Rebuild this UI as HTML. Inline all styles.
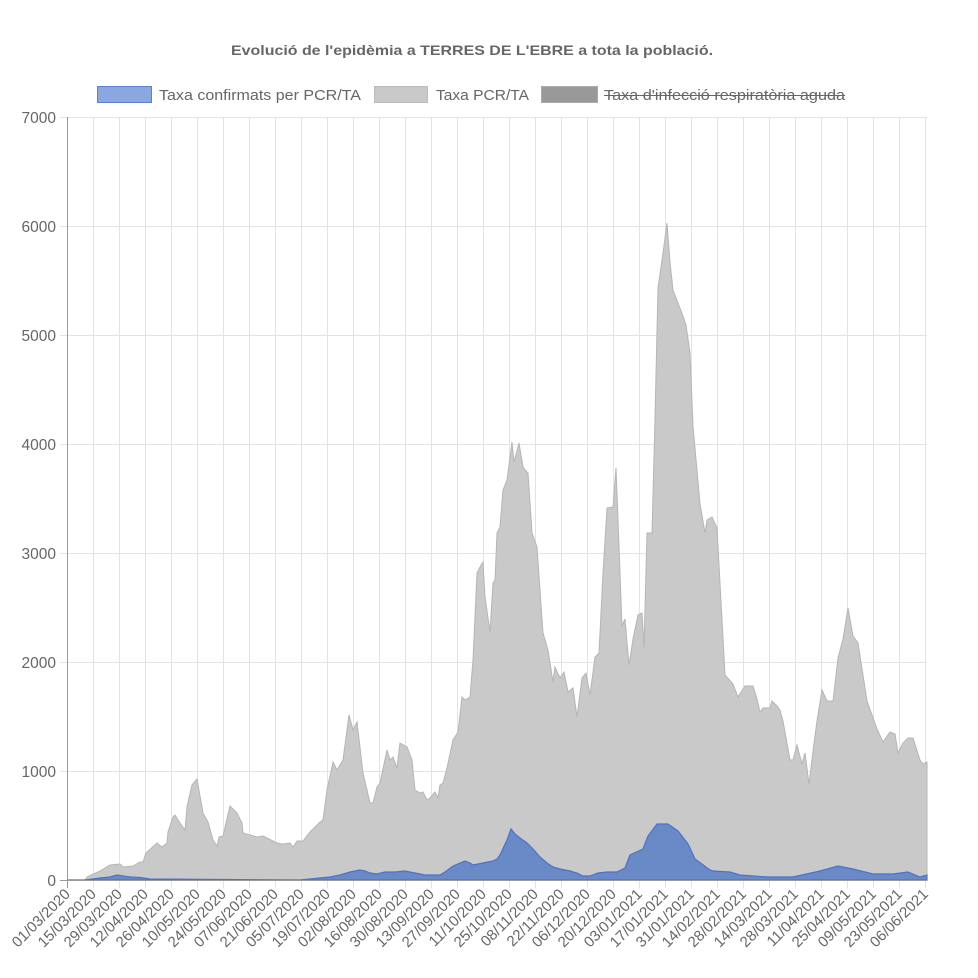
<!DOCTYPE html>
<html><head><meta charset="utf-8"><style>
html,body{margin:0;padding:0;background:#fff}
svg{display:block;font-family:"Liberation Sans",Arial,sans-serif}
</style></head><body>
<svg width="978" height="978" viewBox="0 0 978 978" xmlns="http://www.w3.org/2000/svg">
<text x="231" y="55" font-size="14" font-weight="bold" fill="#666" textLength="482" lengthAdjust="spacingAndGlyphs">Evolució de l'epidèmia a TERRES DE L'EBRE a tota la població.</text>
<rect x="97.5" y="86.5" width="54" height="16" fill="#8aa7e0" stroke="#5b7fd4"/>
<text x="159" y="100" font-size="14.5" fill="#666" textLength="202" lengthAdjust="spacingAndGlyphs">Taxa confirmats per PCR/TA</text>
<rect x="374.5" y="86.5" width="53" height="16" fill="#c9c9c9" stroke="#bbb"/>
<text x="436" y="100" font-size="14.5" fill="#666" textLength="93" lengthAdjust="spacingAndGlyphs">Taxa PCR/TA</text>
<rect x="541.5" y="86.5" width="56" height="16" fill="#999" stroke="#aaa"/>
<text x="604" y="100" font-size="14.5" fill="#666" textLength="241" lengthAdjust="spacingAndGlyphs">Taxa d'infecció respiratòria aguda</text>
<line x1="604" y1="95.5" x2="845" y2="95.5" stroke="#666" stroke-width="1"/>
<g stroke="#e3e3e3" stroke-width="1">
<line x1="60" y1="771.5" x2="927" y2="771.5"/><line x1="60" y1="662.5" x2="927" y2="662.5"/><line x1="60" y1="553.5" x2="927" y2="553.5"/><line x1="60" y1="444.5" x2="927" y2="444.5"/><line x1="60" y1="335.5" x2="927" y2="335.5"/><line x1="60" y1="226.5" x2="927" y2="226.5"/><line x1="60" y1="117.5" x2="927" y2="117.5"/>
<line x1="93.5" y1="117" x2="93.5" y2="888"/><line x1="119.5" y1="117" x2="119.5" y2="888"/><line x1="145.5" y1="117" x2="145.5" y2="888"/><line x1="171.5" y1="117" x2="171.5" y2="888"/><line x1="197.5" y1="117" x2="197.5" y2="888"/><line x1="223.5" y1="117" x2="223.5" y2="888"/><line x1="249.5" y1="117" x2="249.5" y2="888"/><line x1="275.5" y1="117" x2="275.5" y2="888"/><line x1="301.5" y1="117" x2="301.5" y2="888"/><line x1="327.5" y1="117" x2="327.5" y2="888"/><line x1="353.5" y1="117" x2="353.5" y2="888"/><line x1="379.5" y1="117" x2="379.5" y2="888"/><line x1="405.5" y1="117" x2="405.5" y2="888"/><line x1="431.5" y1="117" x2="431.5" y2="888"/><line x1="457.5" y1="117" x2="457.5" y2="888"/><line x1="483.5" y1="117" x2="483.5" y2="888"/><line x1="509.5" y1="117" x2="509.5" y2="888"/><line x1="535.5" y1="117" x2="535.5" y2="888"/><line x1="561.5" y1="117" x2="561.5" y2="888"/><line x1="587.5" y1="117" x2="587.5" y2="888"/><line x1="613.5" y1="117" x2="613.5" y2="888"/><line x1="639.5" y1="117" x2="639.5" y2="888"/><line x1="665.5" y1="117" x2="665.5" y2="888"/><line x1="691.5" y1="117" x2="691.5" y2="888"/><line x1="717.5" y1="117" x2="717.5" y2="888"/><line x1="743.5" y1="117" x2="743.5" y2="888"/><line x1="769.5" y1="117" x2="769.5" y2="888"/><line x1="795.5" y1="117" x2="795.5" y2="888"/><line x1="821.5" y1="117" x2="821.5" y2="888"/><line x1="847.5" y1="117" x2="847.5" y2="888"/><line x1="873.5" y1="117" x2="873.5" y2="888"/><line x1="899.5" y1="117" x2="899.5" y2="888"/><line x1="925.5" y1="117" x2="925.5" y2="888"/>
</g>
<g font-size="15.5" fill="#666" text-anchor="end">
<text x="56" y="886">0</text><text x="56" y="777">1000</text><text x="56" y="668">2000</text><text x="56" y="559">3000</text><text x="56" y="450">4000</text><text x="56" y="341">5000</text><text x="56" y="232">6000</text><text x="56" y="123">7000</text>
</g>
<path fill="#c9c9c9" stroke="#b5b5b5" stroke-width="1" d="M67,880 L85,880 87,877 100,871 110,865 120,864 123,867 133,866 140,862 143,862 146,853 157,843 162,847 167,843 168,832 173,817 175,815 180,823 185,830 187,807 192,785 197,779 203,813 208,822 213,840 217,846 219,837 223,836 230,806 237,813 242,823 243,833 250,835 257,837 263,836 277,843 282,844 290,843 293,847 297,841 303,841 310,832 320,822 323,820 327,790 333,762 337,770 343,760 349,715 353,730 357,722 363,773 370,803 373,803 377,787 380,783 387,750 390,760 393,757 397,768 400,743 407,747 412,760 415,790 420,793 423,792 427,800 430,798 435,792 438,798 440,785 443,783 447,768 453,740 458,732 462,697 465,700 470,697 473,660 477,573 480,567 483,562 485,597 490,632 493,583 495,580 497,533 500,527 503,490 507,480 512,442 514,462 519,443 523,467 525,470 528,473 532,533 537,547 543,633 548,650 553,682 555,667 560,678 564,672 568,692 573,688 577,717 582,678 586,673 590,695 595,657 599,653 603,573 607,508 613,507 616,468 618,520 622,626 625,619 629,665 633,639 638,615 642,613 644,647 647,533 652,533 655,418 658,288 663,253 667,223 670,262 673,290 678,303 683,316 686,325 690,353 693,426 700,504 705,533 707,520 712,517 717,528 725,675 733,684 738,697 745,686 753,686 757,699 760,712 763,708 770,708 772,701 777,706 780,710 783,721 790,760 793,760 797,745 802,764 805,753 809,784 813,751 817,721 822,690 827,701 833,701 838,658 843,639 848,608 853,636 858,643 867,701 877,729 883,742 890,732 895,734 898,753 903,743 908,738 913,738 920,760 923,764 927,762 L927,880 Z"/>
<path fill="#6a8ac7" stroke="#4a72c8" stroke-width="1.2" d="M67,880 L85,880 100,878 110,877 117,875 130,877 140,877.5 150,879 300,880 320,878 330,877 340,875 350,872 360,870 365,871 370,873 377,874 385,872 395,872 405,871 415,873 425,875 435,875 440,875 445,872 453,866 465,861 470,863 473,865 483,863 493,861 497,859 500,855 507,840 511,829 515,834 520,838 527,843 533,849 540,857 547,863 553,867 560,869 570,871 577,873 583,876 590,876 598,873 607,872 617,872 625,868 630,855 643,849 648,836 657,824 668,824 678,831 688,844 695,859 710,870 713,871 730,872 740,875 767,877 793,877 820,871 838,866 853,869 873,874 893,874 908,872 920,877 927,875 L927,880 Z"/>
<line x1="67.5" y1="117" x2="67.5" y2="888" stroke="#999"/>
<line x1="60" y1="880.5" x2="927" y2="880.5" stroke="#999"/>
<g font-size="15" fill="#666" text-anchor="end">
<text x="71" y="895" transform="rotate(-45 71 895)">01/03/2020</text>
<text x="97" y="895" transform="rotate(-45 97 895)">15/03/2020</text>
<text x="123" y="895" transform="rotate(-45 123 895)">29/03/2020</text>
<text x="149" y="895" transform="rotate(-45 149 895)">12/04/2020</text>
<text x="175" y="895" transform="rotate(-45 175 895)">26/04/2020</text>
<text x="201" y="895" transform="rotate(-45 201 895)">10/05/2020</text>
<text x="227" y="895" transform="rotate(-45 227 895)">24/05/2020</text>
<text x="253" y="895" transform="rotate(-45 253 895)">07/06/2020</text>
<text x="279" y="895" transform="rotate(-45 279 895)">21/06/2020</text>
<text x="305" y="895" transform="rotate(-45 305 895)">05/07/2020</text>
<text x="331" y="895" transform="rotate(-45 331 895)">19/07/2020</text>
<text x="357" y="895" transform="rotate(-45 357 895)">02/08/2020</text>
<text x="383" y="895" transform="rotate(-45 383 895)">16/08/2020</text>
<text x="409" y="895" transform="rotate(-45 409 895)">30/08/2020</text>
<text x="435" y="895" transform="rotate(-45 435 895)">13/09/2020</text>
<text x="461" y="895" transform="rotate(-45 461 895)">27/09/2020</text>
<text x="487" y="895" transform="rotate(-45 487 895)">11/10/2020</text>
<text x="513" y="895" transform="rotate(-45 513 895)">25/10/2020</text>
<text x="539" y="895" transform="rotate(-45 539 895)">08/11/2020</text>
<text x="565" y="895" transform="rotate(-45 565 895)">22/11/2020</text>
<text x="591" y="895" transform="rotate(-45 591 895)">06/12/2020</text>
<text x="617" y="895" transform="rotate(-45 617 895)">20/12/2020</text>
<text x="643" y="895" transform="rotate(-45 643 895)">03/01/2021</text>
<text x="669" y="895" transform="rotate(-45 669 895)">17/01/2021</text>
<text x="695" y="895" transform="rotate(-45 695 895)">31/01/2021</text>
<text x="721" y="895" transform="rotate(-45 721 895)">14/02/2021</text>
<text x="747" y="895" transform="rotate(-45 747 895)">28/02/2021</text>
<text x="773" y="895" transform="rotate(-45 773 895)">14/03/2021</text>
<text x="799" y="895" transform="rotate(-45 799 895)">28/03/2021</text>
<text x="825" y="895" transform="rotate(-45 825 895)">11/04/2021</text>
<text x="851" y="895" transform="rotate(-45 851 895)">25/04/2021</text>
<text x="877" y="895" transform="rotate(-45 877 895)">09/05/2021</text>
<text x="903" y="895" transform="rotate(-45 903 895)">23/05/2021</text>
<text x="929" y="895" transform="rotate(-45 929 895)">06/06/2021</text>
</g>
</svg>
</body></html>
